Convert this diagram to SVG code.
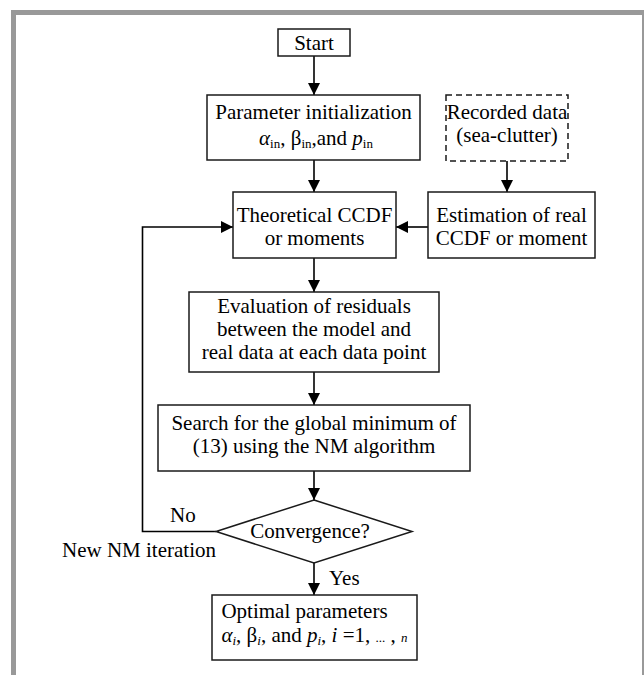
<svg xmlns="http://www.w3.org/2000/svg" width="644" height="675" viewBox="0 0 644 675">
<style>
.t{font-family:"Liberation Serif","Times New Roman",serif;font-size:21px;fill:#000;}
.box{fill:#fff;stroke:#1a1a1a;stroke-width:1.5;}
.dash{fill:#fff;stroke:#1a1a1a;stroke-width:1.5;stroke-dasharray:6 4;}
.ln{fill:none;stroke:#000;stroke-width:1.6;}
.sub{font-size:13px;}
.it{font-style:italic;}
</style>
<defs>
<marker id="ah" markerUnits="userSpaceOnUse" markerWidth="12" markerHeight="12" viewBox="0 0 12 12" refX="12" refY="6" orient="auto">
<path d="M0,0 L12,6 L0,12 Z" fill="#000"/>
</marker>
</defs>
<rect x="13.5" y="12.5" width="631" height="700" fill="#fff" stroke="#999" stroke-width="5"/>
<g id="connectors">
<line class="ln" x1="314" y1="56" x2="314" y2="95" marker-end="url(#ah)"/>
<line class="ln" x1="314" y1="160" x2="314" y2="192" marker-end="url(#ah)"/>
<line class="ln" x1="507" y1="161" x2="507" y2="192" marker-end="url(#ah)"/>
<line class="ln" x1="428" y1="227" x2="396" y2="227" marker-end="url(#ah)"/>
<line class="ln" x1="314" y1="258" x2="314" y2="292" marker-end="url(#ah)"/>
<line class="ln" x1="314" y1="372" x2="314" y2="405" marker-end="url(#ah)"/>
<line class="ln" x1="314" y1="471" x2="314" y2="500" marker-end="url(#ah)"/>
<line class="ln" x1="314" y1="563" x2="314" y2="595" marker-end="url(#ah)"/>
<polyline class="ln" points="216,531.5 142.5,531.5 142.5,227 233,227" marker-end="url(#ah)"/>
<text class="t" x="170" y="522">No</text>
<text class="t" x="62" y="557">New NM iteration</text>
<text class="t" x="329" y="585">Yes</text>
</g>
<g id="start">
<rect class="box" x="278" y="29" width="72" height="27"/>
<text class="t" x="314" y="49.5" text-anchor="middle">Start</text>
</g>
<g id="param">
<rect class="box" x="207" y="95" width="213" height="65"/>
<text class="t" x="313.5" y="119" text-anchor="middle">Parameter initialization</text>
<text class="t" x="316" y="145" text-anchor="middle"><tspan class="it">α</tspan><tspan class="sub" dy="3">in</tspan><tspan dy="-3">, β</tspan><tspan class="sub" dy="3">in</tspan><tspan dy="-3">,and  </tspan><tspan class="it">p</tspan><tspan class="sub" dy="3">in</tspan></text>
</g>
<g id="recorded">
<rect class="dash" x="446" y="95" width="122" height="66"/>
<text class="t" x="507" y="119" text-anchor="middle">Recorded data</text>
<text class="t" x="507" y="142" text-anchor="middle">(sea-clutter)</text>
</g>
<g id="theoretical">
<rect class="box" x="233" y="192" width="163" height="66"/>
<text class="t" x="314.5" y="221.5" text-anchor="middle">Theoretical CCDF</text>
<text class="t" x="314.5" y="244.5" text-anchor="middle">or moments</text>
</g>
<g id="estimation">
<rect class="box" x="428" y="192" width="167" height="66"/>
<text class="t" x="511.5" y="221.5" text-anchor="middle">Estimation of real</text>
<text class="t" x="511.5" y="244.5" text-anchor="middle">CCDF or moment</text>
</g>
<g id="evaluation">
<rect class="box" x="189" y="292" width="250" height="80"/>
<text class="t" x="314" y="313" text-anchor="middle">Evaluation of residuals</text>
<text class="t" x="314" y="336" text-anchor="middle">between the model and</text>
<text class="t" x="314" y="359" text-anchor="middle">real data at each data point</text>
</g>
<g id="search">
<rect class="box" x="158" y="405" width="312" height="66"/>
<text class="t" x="314" y="430" text-anchor="middle">Search for the global minimum of</text>
<text class="t" x="314" y="453" text-anchor="middle">(13) using the NM algorithm</text>
</g>
<g id="convergence">
<polygon class="box" points="314,500 412,531.5 314,563 216,531.5"/>
<text class="t" x="310" y="538" text-anchor="middle">Convergence?</text>
</g>
<g id="optimal">
<rect class="box" x="212" y="595" width="205" height="65"/>
<text class="t" x="304.5" y="618" text-anchor="middle">Optimal parameters</text>
<text class="t" x="314.5" y="642" text-anchor="middle"><tspan class="it">α</tspan><tspan class="sub it" dy="3">i</tspan><tspan dy="-3">, β</tspan><tspan class="sub it" dy="3">i</tspan><tspan dy="-3">, and </tspan><tspan class="it">p</tspan><tspan class="sub it" dy="3">i</tspan><tspan dy="-3">, </tspan><tspan class="it">i</tspan><tspan> =1, </tspan><tspan class="sub">...</tspan><tspan> , </tspan><tspan class="sub it">n</tspan></text>
</g>
</svg>
